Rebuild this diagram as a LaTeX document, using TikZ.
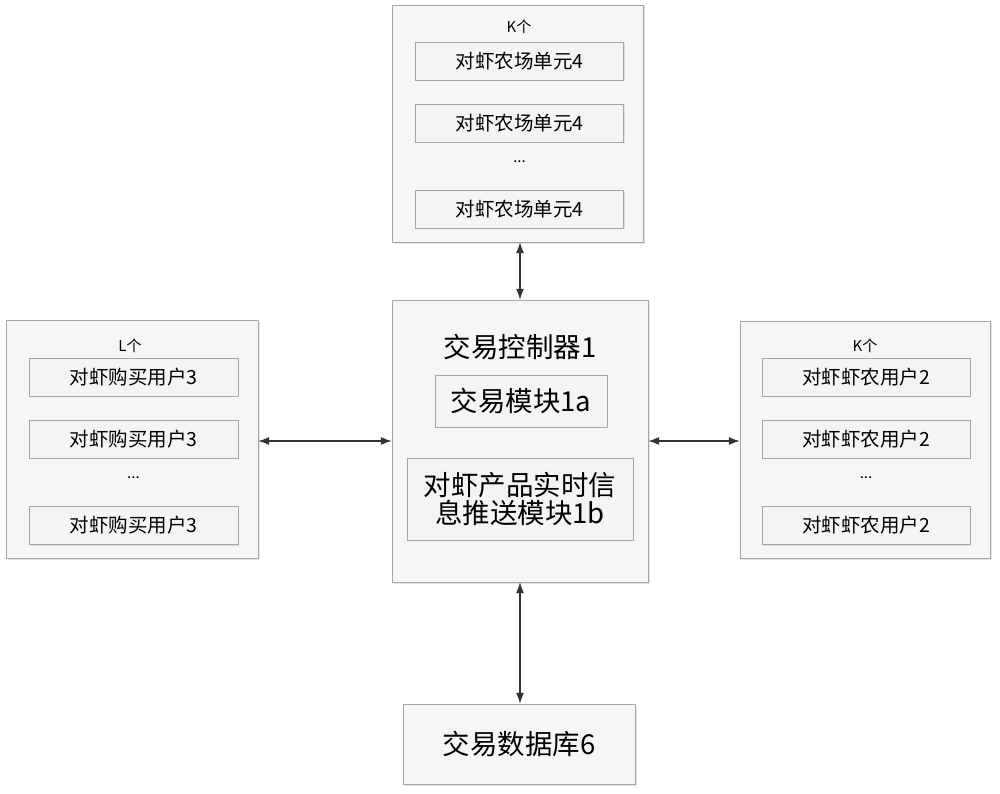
\documentclass[tikz,border=0pt]{standalone}
\usepackage{fontspec}
\newfontfamily\cjk{Noto Sans CJK SC}
\usetikzlibrary{arrows.meta,shadows}

\begin{document}
\begin{tikzpicture}[x=1pt,y=-1pt,
    outerbox/.style={draw=gray!70,fill=gray!7,drop shadow={shadow xshift=1.5pt,shadow yshift=-1.5pt,fill=gray!40}},
    unitbox/.style={draw=gray!70,fill=gray!9,minimum width=208pt,minimum height=38pt,
        drop shadow={shadow xshift=1pt,shadow yshift=-1pt,fill=gray!45},
        font=\cjk\fontsize{19.5}{22}\selectfont},
    bigtext/.style={font=\cjk\fontsize{27.5}{31}\selectfont},
    smalltext/.style={font=\cjk\fontsize{15}{17}\selectfont},
    link/.style={{Latex[length=11pt,width=8pt]}-{Latex[length=11pt,width=8pt]},line width=1.2pt,black!80}]
    \useasboundingbox (0,0) rectangle (1000,794);

    % outer boxes
    \node[outerbox,minimum width=251pt,minimum height=237pt] (farm) at (517.5,123.5) {};
    \node[outerbox,minimum width=256pt,minimum height=282pt] (ctrl) at (520,441) {};
    \node[outerbox,minimum width=252pt,minimum height=238pt] (buyer) at (132,439) {};
    \node[outerbox,minimum width=250pt,minimum height=237pt] (shrimper) at (865,439.5) {};
    \node[outerbox,minimum width=232pt,minimum height=80pt,bigtext] (db) at (519,744) {交易数据库6};

    % farm units
    \node[smalltext] (farmK) at (519,27) {K个};
    \node[unitbox] (farmA) at (519.5,61.5) {对虾农场单元4};
    \node[unitbox] (farmB) at (519.5,123.5) {对虾农场单元4};
    \node[smalltext] (farmDots) at (519.5,162) {...};
    \node[unitbox] (farmC) at (519.5,209.5) {对虾农场单元4};

    % buyers
    \node[smalltext] (buyerL) at (130,346) {L个};
    \node[unitbox,minimum width=209pt] (buyerA) at (133.5,377) {对虾购买用户3};
    \node[unitbox,minimum width=209pt] (buyerB) at (133.5,439) {对虾购买用户3};
    \node[smalltext] (buyerDots) at (133.5,478) {...};
    \node[unitbox,minimum width=209pt] (buyerC) at (133.5,525.5) {对虾购买用户3};

    % shrimp farmers
    \node[smalltext] (shrimperK) at (865,346) {K个};
    \node[unitbox] (shrimperA) at (866,377) {对虾虾农用户2};
    \node[unitbox] (shrimperB) at (866,439) {对虾虾农用户2};
    \node[smalltext] (shrimperDots) at (866,478) {...};
    \node[unitbox] (shrimperC) at (866,525.5) {对虾虾农用户2};

    % controller
    \node[bigtext] (ctrlTitle) at (520,347) {交易控制器1};
    \node[unitbox,bigtext,minimum width=172pt,minimum height=52pt] (trade) at (521,401) {交易模块1a};
    \node[unitbox,bigtext,minimum width=226pt,minimum height=82pt,align=center] (push) at (520,499)
        {对虾产品实时信\\[-3pt]息推送模块1b};

    % links
    \draw[link] (farm.south -| ctrl.north) -- (ctrl.north);
    \draw[link] (buyer.east |- ctrl.west) -- (ctrl.west);
    \draw[link] (ctrl.east) -- (shrimper.west |- ctrl.east);
    \draw[link] (ctrl.south) -- (db.north -| ctrl.south);
\end{tikzpicture}
\end{document}
